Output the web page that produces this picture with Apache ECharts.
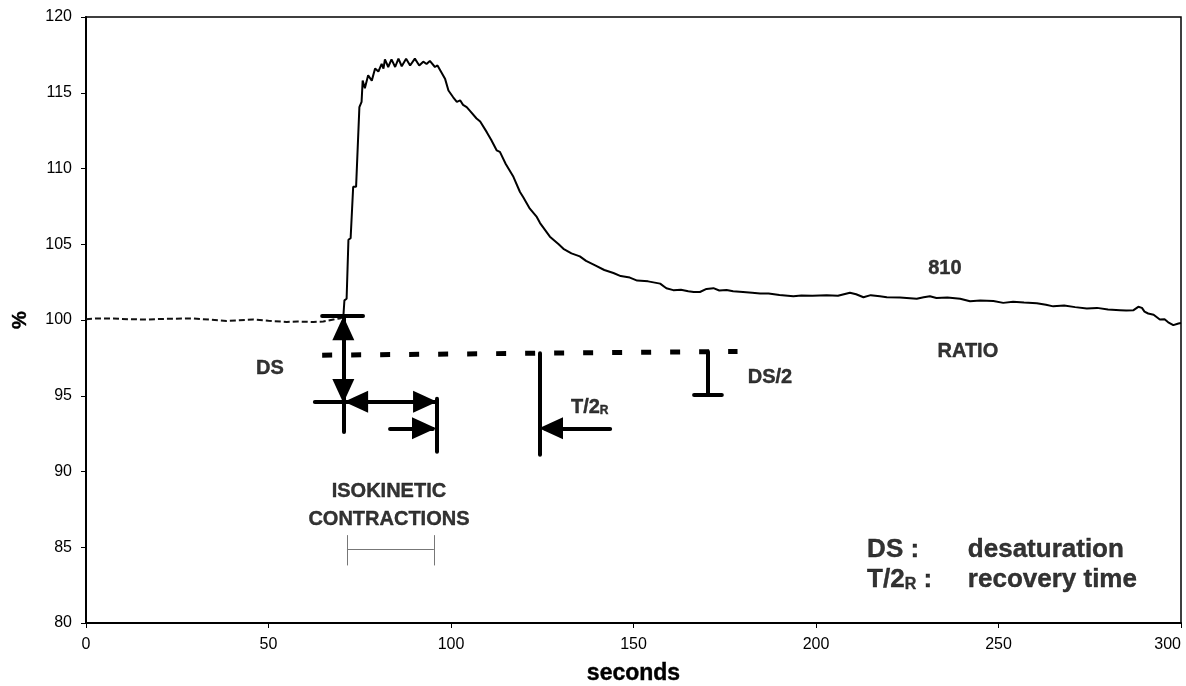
<!DOCTYPE html>
<html><head><meta charset="utf-8">
<script src="https://cdn.jsdelivr.net/npm/echarts@6/dist/echarts.min.js"></script>
<style>html,body{margin:0;padding:0;background:#fff}#c{width:1186px;height:686px}</style>
</head><body><div id="c"></div>
<script>
// ---- data ----
const baselineSeconds = [0,3,7.5,12,16.6,22,29.4,34,38.5,42,45.8,50,55,58,62.3,65,67.8,69.5,70.5];
const baselineValues  = [100.05,100.1,100.1,100.05,100.03,100.08,100.1,100.02,99.94,99.98,100.03,99.95,99.87,99.9,99.87,99.9,100.03,100.1,100.2];

const responseSeconds = [70.5,70.8,71.4,71.9,72.5,73.2,74,74.9,75.5,75.8,76.4,77.3,78.3,79.2,80.1,81,81.5,81.9,82.8,83.7,84.7,85.6,86.5,87.7,88.8,90.1,91.3,92.4,93.3,94.2,95.6,96.3,97,98.4,99.3,100.6,101.6,102.5,103.3,104.3,105.2,107,108,109.8,111,112.5,113.4,115,117.1,118.9,119.8,121.6,123.5,124.4,127.1,129.5,130.8,133,135.3,137,139.5,142,144.5,146.5,149,151,154,157.3,159,160.9,163,165,166.5,168.2,170,171.9,173.5,175.5,177.3,180,182.5,184.7,187,190,193.8,196,199,202.9,206,209.3,211,213,215,217.5,219.4,223,227.6,229.5,231.2,233,236,239.5,242.2,245,248.6,251.3,254,257,260.5,263,265,268,271,274.2,277,280,283.3,285,287,288.3,289.3,290,291,292.5,294.2,295.5,296.5,297.9,299.3,300];
const responseValues  = [100.2,101.3,101.4,105.3,105.4,108.8,108.8,114.05,114.4,115.8,115.3,116.15,115.8,116.6,116.4,116.9,116.6,117.2,116.7,117.2,116.7,117.25,116.75,117.25,116.8,117.25,116.8,117.05,116.9,117.1,116.7,116.8,116.5,115.9,115.15,114.7,114.4,114.5,114.2,114.05,113.8,113.3,113.1,112.4,111.9,111.2,111.1,110.3,109.45,108.45,108.1,107.35,106.8,106.4,105.5,105,104.7,104.4,104.2,103.9,103.6,103.3,103.1,102.9,102.8,102.6,102.55,102.4,102.1,101.97,102.0,101.9,101.85,101.85,102.05,102.1,101.95,101.98,101.9,101.85,101.8,101.75,101.75,101.65,101.57,101.62,101.6,101.64,101.6,101.8,101.7,101.5,101.64,101.57,101.5,101.48,101.4,101.5,101.57,101.45,101.48,101.4,101.24,101.28,101.26,101.13,101.2,101.15,101.1,101.0,100.9,100.95,100.85,100.76,100.8,100.7,100.65,100.62,100.65,100.87,100.8,100.55,100.43,100.35,100.03,100.05,99.85,99.66,99.77,99.8];

const xTicks = [0,50,100,150,200,250,300];
const yTicks = [80,85,90,95,100,105,110,115,120];

// annotation geometry (data units: seconds, %)
const solidSegments = [
  [[64.7,100.25],[75.9,100.25]],
  [[70.5,100.25],[70.5,92.6]],
  [[62.7,94.6],[96.1,94.6]],
  [[96,94.8],[96,91.3]],
  [[83.3,92.85],[95,92.85]],
  [[124.2,97.8],[124.2,91.1]],
  [[143.6,92.85],[126,92.85]],
  [[170.4,97.9],[170.4,95.05]],
  [[166.6,95.05],[174.2,95.05]]
];
const dashedSegment = [[64.7,97.68],[178.5,97.92]];
const arrowsUp    = [[70.5,99.46]];
const arrowsDown  = [[70.5,95.32]];
const arrowsLeft  = [[74.0,94.6],[127.4,92.85]];
const arrowsRight = [[92.9,94.6],[92.6,92.85]];
const contractionBracket = [
  [[71.5,84.85],[95.3,84.85]],
  [[71.5,85.8],[71.5,83.8]],
  [[95.3,85.8],[95.3,83.8]]
];
const centerTexts = [
  {text:'DS', at:[50.4,96.82]},
  {text:'{a|T/2}{b|R}', at:[138,94.25]},
  {text:'DS/2', at:[187.4,96.2]},
  {text:'810', at:[235.3,103.4]},
  {text:'RATIO', at:[241.6,97.94]},
  {text:'ISOKINETIC', at:[83,88.7]},
  {text:'CONTRACTIONS', at:[83,86.8]}
];
const keyTexts = [
  {text:'DS :', at:[214.0,84.82]},
  {text:'{a|T/2}{b|R}{a| :}', at:[214.0,82.84]},
  {text:'desaturation', at:[241.6,84.82]},
  {text:'recovery time', at:[241.6,82.84]}
];

// ---- chart ----
const FONT = 'Liberation Sans, Arial, sans-serif';
const zip = (a,b)=>a.map((v,i)=>[v,b[i]]);
const arrowSeries = (pts, rot) => ({
  type:'scatter', data:pts, symbol:'triangle', symbolSize:[22,24], symbolRotate:rot,
  itemStyle:{color:'#000', opacity:1}, silent:true, z:5
});
const inkText = {color:'#000', textBorderColor:'#000', textBorderWidth:0.4};
const textSeries = (items, size, pos) => ({
  type:'scatter', symbolSize:0, silent:true, z:6,
  data: items.map(t=>({value:t.at, label:{formatter:t.text}})),
  label:Object.assign({show:true, position:pos, distance:0, fontFamily:FONT, fontWeight:'bold', fontSize:size,
    rich:{a:Object.assign({fontFamily:FONT, fontWeight:'bold', fontSize:size}, inkText),
          b:Object.assign({fontFamily:FONT, fontWeight:'bold', fontSize:Math.round(size*0.62), verticalAlign:'bottom'}, inkText)}}, inkText)
});

const chart = echarts.init(document.getElementById('c'));
chart.setOption({
  animation:false,
  backgroundColor:'#fff',
  textStyle:{color:'#000', fontFamily:FONT},
  grid:{left:86, right:5, top:17, bottom:63, outerBoundsMode:'none', containLabel:false,
    show:true, borderColor:'#000', borderWidth:1.5, backgroundColor:'transparent'},
  xAxis:{type:'value', min:xTicks[0], max:xTicks[xTicks.length-1], interval:50,
    name:'seconds', nameLocation:'middle', nameGap:39,
    nameTextStyle:Object.assign({fontFamily:FONT, fontWeight:'bold', fontSize:23}, inkText),
    axisLine:{lineStyle:{color:'#000', width:2}},
    axisTick:{length:5, lineStyle:{color:'#000'}},
    axisLabel:{fontFamily:FONT, fontSize:16, color:'#000', margin:14, alignMaxLabel:'right'},
    splitLine:{show:false}},
  yAxis:{type:'value', min:yTicks[0], max:yTicks[yTicks.length-1], interval:5,
    name:'%', nameLocation:'middle', nameGap:56, nameRotate:90,
    nameTextStyle:Object.assign({fontFamily:FONT, fontWeight:'bold', fontSize:20}, inkText),
    axisLine:{lineStyle:{color:'#000', width:2}},
    axisTick:{length:5, lineStyle:{color:'#000'}},
    axisLabel:{fontFamily:FONT, fontSize:16, color:'#000', margin:14},
    splitLine:{show:false}},
  series:[
    {type:'line', data:zip(baselineSeconds, baselineValues), showSymbol:false, silent:true,
      lineStyle:{color:'#111', width:2, type:[6,3]}},
    {type:'line', data:zip(responseSeconds, responseValues), showSymbol:false, silent:true,
      lineStyle:{color:'#000', width:2}},
    {type:'lines', coordinateSystem:'cartesian2d', silent:true, z:4,
      data:solidSegments.map(c=>({coords:c})),
      lineStyle:{color:'#000', width:4, opacity:1, cap:'round'}},
    {type:'lines', coordinateSystem:'cartesian2d', silent:true, z:4,
      data:[{coords:dashedSegment}],
      lineStyle:{color:'#000', width:5, opacity:1, type:[10,19]}},
    {type:'lines', coordinateSystem:'cartesian2d', silent:true, z:4,
      data:contractionBracket.map(c=>({coords:c})),
      lineStyle:{color:'#777', width:1, opacity:1}},
    arrowSeries(arrowsUp, 0),
    arrowSeries(arrowsDown, 180),
    arrowSeries(arrowsLeft, 90),
    arrowSeries(arrowsRight, -90),
    textSeries(centerTexts, 20, 'inside'),
    textSeries(keyTexts, 26, 'right')
  ]
});
</script>
</body></html>
